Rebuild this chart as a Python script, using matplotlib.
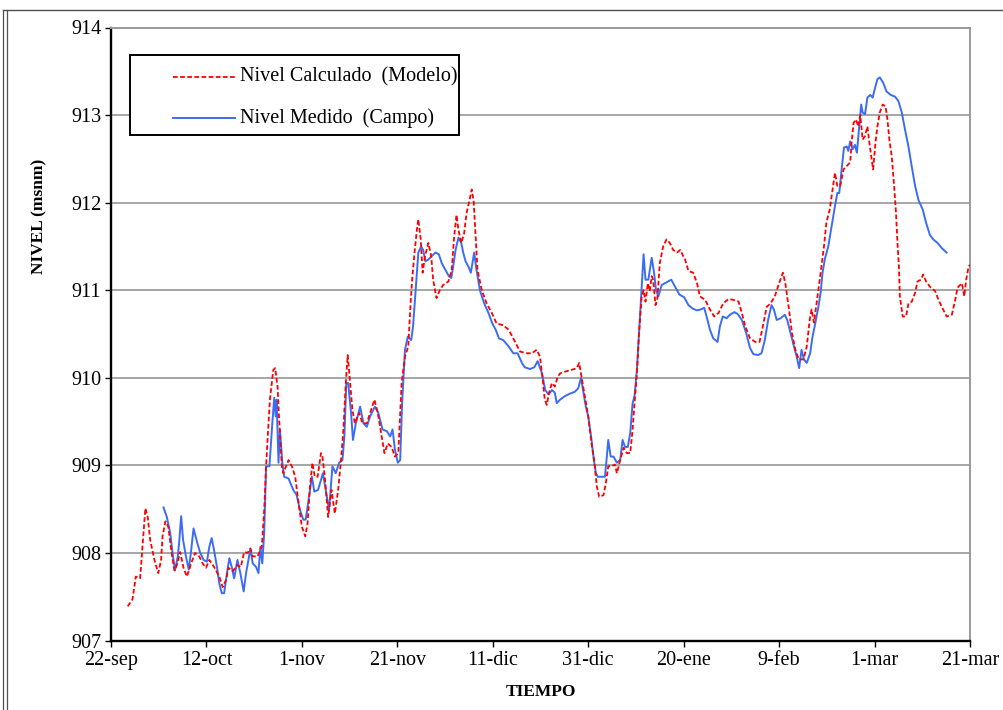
import matplotlib
matplotlib.use("Agg")
import matplotlib.pyplot as plt
from matplotlib.lines import Line2D
from matplotlib.patches import Rectangle

plt.rcParams["font.family"] = ["Liberation Serif", "DejaVu Serif"]

# Days counted from 22-sep
tick_days = [0, 20, 40, 60, 80, 100, 120, 140, 160, 180]
tick_labels = ["22-sep", "12-oct", "1-nov", "21-nov", "11-dic",
               "31-dic", "20-ene", "9-feb", "1-mar", "21-mar"]
y_ticks = [907, 908, 909, 910, 911, 912, 913, 914]

# Nivel calculado (modelo)
modelo_dia = [
    3.5, 4.5, 5.2, 6.1, 6.6, 7.2, 7.7, 8.2, 9.1, 9.9, 10.5, 10.8, 11.4, 12.0,
    12.7, 13.3, 13.8, 14.5, 15.2, 15.9, 16.8, 17.6, 18.5, 19.2, 19.9, 20.6,
    21.6, 22.7, 23.4, 24.1, 24.6, 25.5, 26.4, 27.2, 27.9, 28.6, 29.2, 29.7,
    30.7, 31.6, 32.1, 32.5, 32.8, 33.3, 34.0, 34.4, 34.9, 35.2, 35.8, 36.1,
    37.2, 37.9, 38.6, 39.3, 40.0, 40.7, 41.2, 41.7, 42.2, 42.7, 43.3, 44.0,
    44.3, 44.8, 45.5, 46.2, 46.9, 47.6, 48.2, 48.7, 49.2, 49.6, 50.1, 50.6,
    51.1, 52.0, 52.7, 53.6, 54.3, 55.2, 55.9, 56.6, 57.3, 58.0, 58.8, 59.5,
    60.2, 60.9, 61.6, 62.3, 62.7, 63.1, 63.6, 64.1, 64.4, 64.9, 65.3, 65.8,
    66.5, 67.1, 67.5, 68.2, 68.9, 69.6, 70.7, 71.4, 71.9, 72.4, 72.8, 73.4,
    74.0, 74.5, 75.0, 75.6, 76.0, 76.4, 76.8, 77.7, 78.7, 79.8, 80.8, 82.2,
    83.3, 84.3, 85.7, 87.1, 88.2, 89.2, 89.9, 90.4, 90.9, 91.3, 91.8, 92.4,
    93.0, 93.6, 94.1, 95.1, 96.5, 97.6, 98.1, 98.6, 99.3, 100.0, 100.7, 101.3,
    101.8, 102.3, 103.2, 103.7, 104.2, 104.9, 105.6, 106.0, 106.7, 107.4,
    108.1, 108.8, 109.3, 109.7, 110.2, 110.6, 111.2, 111.6, 112.0, 112.5,
    112.9, 113.3, 113.6, 114.1, 114.5, 115.0, 115.7, 116.4, 117.1, 117.8,
    118.6, 119.3, 119.9, 120.3, 121.0, 122.0, 122.8, 123.4, 124.5, 125.5,
    126.4, 127.3, 128.3, 129.4, 130.4, 131.5, 132.2, 132.9, 133.9, 135.0,
    135.9, 136.6, 137.4, 138.2, 139.1, 140.0, 140.8, 141.3, 142.0, 142.7,
    143.4, 144.1, 145.1, 145.8, 146.4, 146.8, 147.3, 148.0, 148.7, 149.4,
    149.9, 150.6, 151.3, 151.7, 152.2, 152.8, 153.5, 154.2, 154.9, 155.2,
    155.6, 156.1, 156.6, 157.0, 157.5, 158.0, 158.5, 158.9, 159.4, 159.7,
    160.2, 160.6, 161.1, 161.7, 162.3, 162.7, 163.1, 163.6, 164.1, 164.5,
    164.8, 165.1, 165.3, 165.9, 166.6, 167.1, 167.8, 168.5, 169.0, 169.7,
    170.2, 170.8, 171.6, 172.7, 173.4, 174.1, 175.1, 176.2, 176.9, 177.4,
    178.3, 178.8, 179.2, 179.7, 180.0,
]
modelo_nivel = [
    907.39, 907.47, 907.73, 907.71, 908.07, 908.51, 908.41, 908.15, 907.92,
    907.77, 907.92, 908.19, 908.36, 908.30, 908.00, 907.80, 907.86, 908.01,
    907.83, 907.73, 907.88, 908.00, 907.96, 907.88, 907.83, 907.92, 907.84,
    907.73, 907.61, 907.69, 907.83, 907.79, 907.86, 907.84, 908.01, 908.00,
    908.05, 907.96, 907.96, 908.07, 908.49, 908.99, 909.29, 909.75, 910.09,
    910.11, 909.90, 909.56, 908.99, 908.91, 909.06, 908.99, 908.87, 908.57,
    908.30, 908.19, 908.34, 908.76, 909.03, 908.87, 908.87, 909.14, 909.10,
    908.87, 908.41, 908.72, 908.45, 908.72, 909.06, 909.41, 909.94, 910.26,
    909.94, 909.63, 909.48, 909.60, 909.48, 909.48, 909.60, 909.75, 909.60,
    909.37, 909.14, 909.25, 909.21, 909.10, 909.14, 909.94, 910.24, 910.36,
    910.78, 911.12, 911.43, 911.69, 911.81, 911.58, 911.20, 911.39, 911.54,
    911.39, 911.12, 910.91, 911.00, 911.06, 911.10, 911.23, 911.61, 911.86,
    911.69, 911.54, 911.65, 911.88, 912.00, 912.15, 912.01, 911.61, 911.23,
    911.00, 910.85, 910.74, 910.62, 910.60, 910.55, 910.45, 910.30, 910.28,
    910.28, 910.32, 910.24, 910.01, 909.75, 909.69, 909.83, 909.94, 909.90,
    910.01, 910.05, 910.07, 910.09, 910.11, 910.17, 910.01, 909.79, 909.56,
    909.25, 909.03, 908.76, 908.64, 908.66, 908.80, 908.99, 908.99, 909.01,
    908.91, 909.06, 909.20, 909.14, 909.14, 909.41, 909.71, 910.05, 910.47,
    910.93, 911.00, 910.87, 911.08, 910.99, 911.16, 911.12, 910.83, 910.91,
    911.31, 911.50, 911.58, 911.54, 911.46, 911.43, 911.46, 911.39, 911.35,
    911.22, 911.20, 911.08, 910.93, 910.89, 910.78, 910.70, 910.74, 910.85,
    910.90, 910.89, 910.87, 910.74, 910.59, 910.45, 910.41, 910.41, 910.59,
    910.81, 910.85, 910.93, 911.08, 911.20, 911.08, 910.81, 910.51, 910.32,
    910.21, 910.21, 910.36, 910.66, 910.78, 910.63, 910.91, 911.20, 911.50,
    911.77, 911.92, 912.19, 912.34, 912.19, 912.19, 912.38, 912.42, 912.46,
    912.69, 912.91, 912.95, 912.87, 913.00, 912.72, 912.76, 912.87, 912.69,
    912.49, 912.38, 912.69, 912.87, 913.03, 913.12, 913.10, 912.95, 912.72,
    912.53, 912.19, 911.88, 911.54, 911.27, 910.93, 910.70, 910.70, 910.85,
    910.87, 910.97, 911.10, 911.12, 911.18, 911.10, 911.04, 910.99, 910.89,
    910.81, 910.70, 910.72, 910.89, 911.03, 911.08, 910.93, 911.12, 911.27,
    911.29,
]

# Nivel medido (campo)
campo_dia = [
    11.0, 11.7, 12.4, 12.9, 13.4, 14.0, 14.3, 14.7, 15.1, 15.7, 16.3, 16.8,
    17.3, 18.0, 18.7, 19.4, 20.1, 20.6, 21.1, 21.6, 22.2, 22.7, 23.2, 23.7,
    24.3, 24.8, 25.3, 25.8, 26.5, 27.1, 27.8, 28.3, 28.8, 29.2, 29.7, 30.4,
    30.9, 31.3, 31.7, 32.1, 32.5, 33.2, 33.8, 34.2, 34.5, 34.7, 35.1, 35.4,
    35.9, 36.3, 37.2, 38.2, 38.9, 39.6, 40.3, 40.8, 41.4, 42.1, 42.6, 43.4,
    44.4, 45.0, 45.7, 46.4, 47.1, 47.8, 48.5, 48.9, 49.3, 49.7, 50.3, 50.7,
    51.3, 52.2, 52.9, 53.6, 54.3, 55.3, 56.0, 56.9, 57.8, 58.5, 59.0, 59.5,
    60.1, 60.6, 61.0, 61.6, 62.2, 62.9, 63.3, 63.8, 64.4, 65.0, 65.4, 65.9,
    66.5, 67.2, 68.0, 68.7, 69.3, 70.1, 70.8, 71.3, 71.7, 72.2, 72.8, 73.4,
    73.8, 74.3, 74.9, 75.4, 76.1, 76.6, 77.3, 78.2, 79.1, 79.9, 80.6, 81.3,
    82.2, 83.3, 84.3, 85.2, 86.1, 86.7, 87.8, 88.7, 89.4, 90.3, 91.0, 91.7,
    92.4, 93.0, 93.4, 94.1, 95.1, 96.2, 97.2, 97.9, 98.5, 99.0, 99.5, 100.0,
    100.6, 101.1, 101.6, 102.0, 102.8, 103.5, 103.9, 104.2, 104.7, 105.3,
    106.0, 106.7, 107.2, 107.7, 108.3, 108.8, 109.3, 109.7, 110.2, 110.6,
    111.1, 111.6, 112.0, 112.6, 113.3, 113.8, 114.2, 114.7, 115.4, 116.4,
    117.4, 118.2, 119.1, 120.1, 121.0, 121.9, 122.8, 123.6, 124.3, 124.9,
    125.5, 126.2, 127.1, 127.6, 128.2, 129.0, 129.7, 130.6, 131.3, 132.2,
    133.1, 133.9, 134.6, 135.6, 136.3, 137.0, 137.7, 138.4, 138.9, 139.5,
    140.3, 141.2, 141.7, 142.4, 143.1, 143.7, 144.2, 144.7, 145.2, 145.8,
    146.5, 147.0, 147.5, 148.2, 148.7, 149.1, 149.6, 150.3, 151.0, 151.7,
    152.2, 152.6, 153.1, 153.6, 154.2, 154.5, 154.9, 155.4, 155.9, 156.3,
    156.8, 157.2, 157.5, 158.0, 158.5, 159.1, 159.6, 160.1, 160.6, 161.1,
    161.8, 162.5, 163.4, 164.3, 165.0, 165.7, 166.4, 167.1, 167.8, 168.5,
    169.2, 170.1, 170.8, 171.6, 172.3, 173.2, 174.1, 175.1,
]
campo_nivel = [
    908.52, 908.41, 908.23, 908.00, 907.80, 907.96, 908.13, 908.42, 908.15,
    907.96, 907.81, 908.03, 908.28, 908.13, 908.00, 907.92, 907.90, 908.07,
    908.17, 908.03, 907.84, 907.65, 907.54, 907.54, 907.77, 907.94, 907.84,
    907.71, 907.92, 907.77, 907.56, 907.77, 907.92, 908.05, 907.88, 907.84,
    907.77, 908.07, 907.88, 908.23, 908.99, 908.99, 909.48, 909.77, 909.56,
    909.75, 909.03, 909.41, 909.03, 908.87, 908.85, 908.72, 908.66, 908.49,
    908.38, 908.38, 908.61, 908.87, 908.70, 908.72, 908.91, 908.72, 908.49,
    908.99, 908.91, 909.03, 909.06, 909.33, 909.94, 909.94, 909.60, 909.29,
    909.48, 909.67, 909.48, 909.44, 909.56, 909.67, 909.60, 909.41, 909.39,
    909.33, 909.41, 909.18, 909.03, 909.06, 909.71, 910.32, 910.47, 910.43,
    910.59, 910.97, 911.43, 911.50, 911.46, 911.33, 911.35, 911.39, 911.43,
    911.41, 911.31, 911.23, 911.16, 911.14, 911.27, 911.46, 911.60, 911.54,
    911.43, 911.33, 911.27, 911.20, 911.43, 911.23, 911.00, 910.85, 910.74,
    910.62, 910.55, 910.45, 910.43, 910.36, 910.28, 910.28, 910.17, 910.12,
    910.10, 910.12, 910.19, 910.05, 909.86, 909.81, 909.86, 909.83, 909.71,
    909.75, 909.79, 909.82, 909.84, 909.88, 910.00, 909.83, 909.67, 909.56,
    909.33, 909.10, 908.91, 908.87, 908.87, 908.87, 909.10, 909.29, 909.10,
    909.10, 909.03, 909.06, 909.29, 909.21, 909.21, 909.37, 909.71, 909.79,
    910.09, 910.47, 910.93, 911.41, 911.12, 911.12, 911.37, 911.20, 911.00,
    910.93, 911.06, 911.09, 911.12, 911.04, 910.95, 910.92, 910.83, 910.79,
    910.77, 910.78, 910.80, 910.68, 910.55, 910.45, 910.41, 910.59, 910.70,
    910.68, 910.72, 910.75, 910.73, 910.66, 910.51, 910.34, 910.27, 910.26,
    910.28, 910.43, 910.66, 910.83, 910.78, 910.66, 910.68, 910.72, 910.66,
    910.51, 910.36, 910.24, 910.11, 910.32, 910.21, 910.17, 910.28, 910.47,
    910.60, 910.80, 910.97, 911.20, 911.36, 911.50, 911.73, 911.96, 912.11,
    912.11, 912.38, 912.63, 912.64, 912.59, 912.70, 912.61, 912.66, 912.57,
    912.87, 913.12, 913.03, 913.01, 913.20, 913.23, 913.20, 913.31, 913.41,
    913.43, 913.37, 913.27, 913.23, 913.21, 913.16, 913.03, 912.83, 912.64,
    912.41, 912.19, 912.03, 911.92, 911.77, 911.63, 911.58, 911.54, 911.48,
    911.43,
]

label_modelo = "Nivel Calculado  (Modelo)"
label_campo = "Nivel Medido  (Campo)"

RED = "#ff0000"
BLUE = "#3b6cf5"
GRID = "#a6a6a6"
RED_DASH = (0, (2.6, 1.35))
RED_LW = 1.3
BLUE_LW = 1.4

W, H = 1004, 710
fig = plt.figure(figsize=(W / 100, H / 100), dpi=100)
fig.patch.set_facecolor("white")

ax_l, ax_r, ax_t, ax_b = 111, 970, 27.5, 640.5
ax = fig.add_axes([ax_l / W, 1 - ax_b / H, (ax_r - ax_l) / W, (ax_b - ax_t) / H])

ax.plot(campo_dia, campo_nivel, color=BLUE, lw=BLUE_LW,
        solid_joinstyle="round", zorder=3)
ax.plot(modelo_dia, modelo_nivel, color=RED, lw=RED_LW,
        linestyle=RED_DASH, zorder=4)

ax.set_xlim(0, 180)
ax.set_ylim(907, 914)
ax.set_xticks(tick_days)
ax.set_xticklabels(tick_labels)
ax.set_yticks(y_ticks)
ax.set_yticklabels([str(v) for v in y_ticks])

ax.yaxis.grid(True, color=GRID, lw=1.4, zorder=0)
ax.xaxis.grid(False)
ax.set_axisbelow(True)

for side in ("left", "bottom"):
    ax.spines[side].set_color("black")
    ax.spines[side].set_linewidth(1.7)
for side in ("top", "right"):
    ax.spines[side].set_color("#9a9a9a")
    ax.spines[side].set_linewidth(1.4)

ax.tick_params(axis="x", direction="out", length=4.5, width=1.0,
               labelsize=14.5, pad=3, color="black")
ax.tick_params(axis="y", direction="out", length=4, width=1.0,
               labelsize=14.5, pad=3, color="black")

ax.set_xlabel("TIEMPO", fontsize=12.5, fontweight="bold")
ax.xaxis.set_label_coords(0.5, -0.071)
ax.xaxis.label.set_va("top")
ax.set_ylabel("NIVEL (msnm)", fontsize=12.5, fontweight="bold")
ax.yaxis.set_label_coords((47 - ax_l) / (ax_r - ax_l), (ax_b - 216) / (ax_b - ax_t))

# Legend box drawn in axes coordinates
def ax_x(px):
    return (px - ax_l) / (ax_r - ax_l)

def ax_y(py):
    return (ax_b - py) / (ax_b - ax_t)

box = Rectangle((ax_x(130), ax_y(135)), ax_x(459) - ax_x(130),
                ax_y(55) - ax_y(135), transform=ax.transAxes,
                facecolor="white", edgecolor="black", lw=1.4, zorder=6)
ax.add_patch(box)
for py, color, style, lw, text in [
    (77, RED, RED_DASH, RED_LW, label_modelo),
    (118, BLUE, "-", BLUE_LW, label_campo),
]:
    ax.add_line(Line2D([ax_x(173), ax_x(235)], [ax_y(py), ax_y(py)],
                       transform=ax.transAxes, color=color, lw=lw,
                       linestyle=style, zorder=7))
    ax.text(ax_x(240), ax_y(py), text, transform=ax.transAxes,
            fontsize=14.5, va="center", ha="left", zorder=7)

# Outer chart frame
fig.add_artist(Line2D([3 / W, 1.0], [1 - 10 / H, 1 - 10 / H],
                      transform=fig.transFigure, color="#505050", lw=1.0))
for px in (3.5, 7.5):
    fig.add_artist(Line2D([px / W, px / W], [0, 1 - 10 / H],
                          transform=fig.transFigure, color="#505050", lw=0.9))

fig.savefig("out.png", dpi=100, facecolor="white")
